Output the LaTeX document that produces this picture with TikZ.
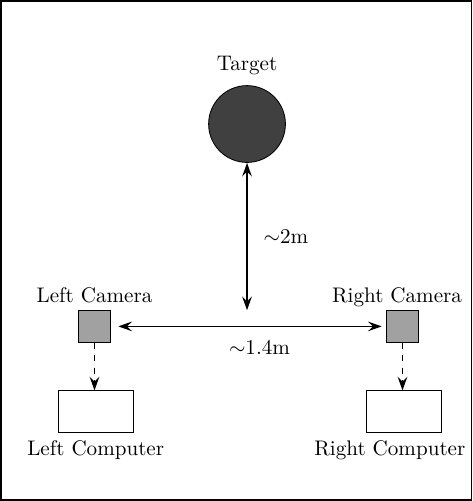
\documentclass[tikz,border=0pt]{standalone}
\usepackage{amsmath,amssymb}
\usepackage{xcolor}
\usetikzlibrary{arrows.meta,calc,positioning}

\tikzset{
  camera/.style={draw,fill=black!37,minimum size=0.52cm,inner sep=0pt},
  computer/.style={draw,fill=white,minimum width=1.25cm,minimum height=0.7cm,inner sep=0pt},
  dist/.style={semithick,{Stealth[length=6.5pt,width=4.6pt,inset=2.4pt]}-{Stealth[length=6.5pt,width=4.6pt,inset=2.4pt]}},
  link/.style={semithick,dashed,-{Stealth[length=6.5pt,width=4.6pt,inset=2.4pt]}}
}

\begin{document}
\begin{tikzpicture}
  \useasboundingbox (0,0) rectangle (7.883,-8.35);
  \draw[thick] (0.02,-0.02) rectangle (7.86,-8.33);

  % target and cameras
  \node[circle,draw,fill=black!75,minimum size=1.28cm,inner sep=0pt,label={[label distance=0.05cm]above:Target}] (target) at (4.117,-2.067) {};
  \node[camera,label={[text depth=0pt]above:Left Camera}] (lcam) at (1.575,-5.44) {};
  \node[camera,label={[text depth=0pt,xshift=-0.09cm]above:Right Camera}] (rcam) at (6.708,-5.44) {};

  % computers
  \node[computer,below=0.8cm of lcam,xshift=0.02cm,label=below:Left Computer] (lpc) {};
  \node[computer,below=0.8cm of rcam,xshift=0.02cm,label={[xshift=-0.23cm]below:Right Computer}] (rpc) {};

  \coordinate (base) at (4.117,-5.17);

  % distances
  \draw[dist] (target.south) -- (base) node[midway,right=0.15cm] {$\sim$2m};
  \draw[dist,shorten <=0.13cm,shorten >=0.08cm] (lcam.east) -- (rcam.west) node[pos=0.54,below=0.1cm] {$\sim$1.4m};

  \draw[link] (lcam.south) -- (lcam.south |- lpc.north);
  \draw[link] (rcam.south) -- (rcam.south |- rpc.north);
\end{tikzpicture}
\end{document}
